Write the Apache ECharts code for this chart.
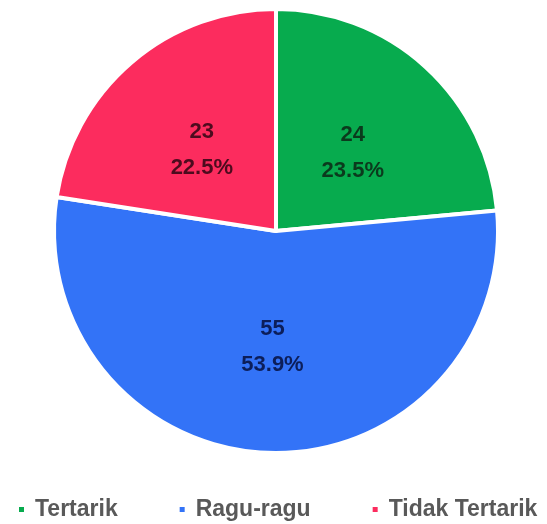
<!DOCTYPE html>
<html>
<head>
<meta charset="utf-8">
<script src="https://cdn.jsdelivr.net/npm/echarts@6/dist/echarts.min.js"></script>
<style>html,body{margin:0;padding:0;background:#fff;}#c{width:547px;height:524px;}</style>
</head>
<body>
<div id="c"></div>
<script>
const categories = ['Tertarik', 'Ragu-ragu', 'Tidak Tertarik'];
const values = [24, 55, 23];
const colors = ['#07ab4e', '#3373f7', '#fc2c5e'];
const labelColors = ['#0b3a1d', '#0c1e5a', '#4d0b1e'];
const labelShift = [6, 2, 6];

const chart = echarts.init(document.getElementById('c'));
const total = values.reduce((a, b) => a + b, 0);
chart.setOption({
  animation: false,
  legend: {
    top: 493,
    left: 12,
    padding: 5,
    itemWidth: 7,
    itemHeight: 7,
    itemGap: 60,
    icon: 'rect',
    textStyle: { fontFamily: 'Liberation Sans', fontWeight: 'bold', fontSize: 23, color: '#595959', padding: [0, 0, 0, 5] },
    data: categories
  },
  series: [{
    type: 'pie',
    center: [276, 231],
    radius: 222,
    startAngle: 90,
    clockwise: true,
    label: {
      position: 'inside',
      formatter: p => p.value + '\n' + (p.value / total * 100).toFixed(1) + '%',
      fontFamily: 'Liberation Sans',
      fontWeight: 'bold',
      fontSize: 22,
      lineHeight: 36
    },
    labelLayout: p => ({ dy: labelShift[p.dataIndex] }),
    labelLine: { show: false },
    itemStyle: { borderColor: '#fff', borderWidth: 4 },
    data: categories.map((c, i) => ({
      name: c,
      value: values[i],
      itemStyle: { color: colors[i] },
      label: { color: labelColors[i] }
    }))
  }]
});
</script>
</body>
</html>
